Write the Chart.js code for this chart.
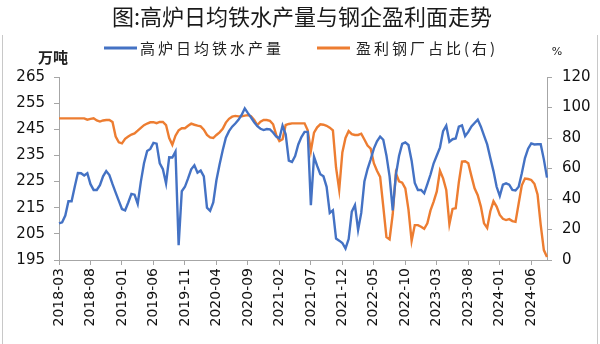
<!DOCTYPE html>
<html>
<head>
<meta charset="utf-8">
<script src="https://cdn.jsdelivr.net/npm/chart.js@4/dist/chart.umd.min.js"></script>
<style>
  body { margin: 0; background: #fff; }
  #wrap { width: 600px; height: 344px; }
</style>
</head>
<body>
<div id="wrap"><canvas id="myChart" width="600" height="344"></canvas></div>
<script>
// data: two points per month, 2018-03 .. 2024-08
const titleText = '图:高炉日均铁水产量与钢企盈利面走势';
const seriesNames = ['高炉日均铁水产量', '盈利钢厂占比(右)'];
const tickLabels = ['2018-03', '2018-08', '2019-01', '2019-06', '2019-11', '2020-04', '2020-09', '2021-02',
  '2021-07', '2021-12', '2022-05', '2022-10', '2023-03', '2023-08', '2024-01', '2024-06'];

// category labels (half-month steps)
let cats = [];
for (let m = 0; m < 78; m++) {
  let y = 2018 + Math.floor((m + 2) / 12);
  let mm = String((m + 2) % 12 + 1).padStart(2, '0');
  cats.push(y + '-' + mm + '-01', y + '-' + mm + '-16');
}

// 高炉日均铁水产量, 万吨
const ironOutput = [
  209, 209.4, 212, 217.5, 217.5, 223, 228.3, 228.2, 227.3, 228.2,
  224, 221.8, 221.8, 223.6, 227, 229, 227.5, 224, 220.8, 217.6,
  214.5, 214, 217, 220.3, 220, 216.5, 225, 232, 236.7, 237.5,
  239.8, 239.5, 232, 229.7, 224.3, 234.3, 234.2, 236.5, 200.7, 221.3,
  223, 226.2, 229.7, 231.2, 228.4, 229.2, 227, 215, 213.8, 217,
  225.5, 231.5, 237, 241.8, 244.3, 246, 247.2, 248.6, 250.5, 253,
  251.2, 249.5, 247.7, 246.2, 245.2, 244.7, 245.1, 245, 243.8, 242.2,
  241.5, 246.4, 243.1, 233, 232.5, 234.8, 239.2, 242, 244, 244,
  216, 234.5, 231, 227.8, 227, 223, 213, 214, 203.2, 202.4,
  201.5, 199.4, 203, 213.5, 216, 206.5, 213, 225, 229.8, 233.5,
  237.6, 240.4, 242.2, 241, 235, 227, 214, 227.5, 234.8, 239.4,
  240, 239, 233, 224.5, 221.8, 221.8, 220.5, 224, 227.7, 232,
  235, 238, 244.3, 246.4, 240.2, 241.2, 241.5, 246, 246.5, 242.4,
  244, 246.1, 247.4, 248.7, 246, 242.6, 239.2, 234, 229, 223,
  219.5, 223.8, 224.3, 223.8, 221.8, 221.6, 223, 228.2, 234, 237.6,
  239.6, 239.2, 239.3, 239.3, 233.5, 226.5
];

// 盈利钢厂占比, %
const profitShare = [
  92.9, 92.9, 92.9, 92.9, 92.9, 92.9, 92.9, 92.9, 92.9, 92,
  92.5, 92.9, 91.5, 90.8, 91.5, 91.8, 91.8, 90.5, 81, 77.2,
  76.5, 79.5, 81, 82.3, 83, 84.8, 86.7, 88.4, 89.5, 90.3,
  90.4, 89.7, 90.5, 90.5, 88.5, 80, 75.5, 81.5, 85, 86.4,
  86.4, 88, 89.4, 88.7, 88.1, 87.6, 85.5, 82, 80.4, 80,
  82, 83.7, 86, 90.1, 92.6, 94, 94.5, 94.2, 94.2, 94.7,
  95, 94.3, 91.8, 88.5, 90.7, 91.8, 91.8, 91.2, 89, 82,
  78, 79.2, 88.5, 89.2, 89.6, 89.6, 89.6, 89.6, 89.6, 85,
  71.5, 83.5, 87, 89, 88.7, 88, 86.8, 85, 60.5, 46,
  70.5, 80, 84.5, 82.5, 82, 82, 82.8, 79, 75, 73,
  63.5, 58.5, 54.5, 35, 15, 13.5, 30, 56.9, 51.6, 50.7,
  47, 33, 12.5, 22.9, 22.9, 21.8, 20.5, 24, 32.5, 38.3,
  45, 58.5, 53.5, 46, 23.5, 33.5, 33.9, 51, 64.5, 64.7,
  63.5, 55, 47, 42.5, 35, 24, 21, 32, 38.5, 35,
  29.5, 27, 26.2, 26.8, 25.5, 25, 37, 49, 53.4, 53.1,
  52.5, 50, 43, 23, 6.5, 2
];

const colors = ['#4472C4', '#ED7D31'];
const axisGray = '#a6a6a6';
const tickFont = { family: 'DejaVu Sans', size: 15 };

// title, legend, units and frame
const decor = {
  id: 'decor',
  afterDraw(chart) {
    let ctx = chart.ctx;
    ctx.save();
    ctx.strokeStyle = '#c8c8c8';
    ctx.lineWidth = 1;
    ctx.beginPath();
    ctx.moveTo(2.5, 35); ctx.lineTo(2.5, 344);
    ctx.moveTo(597.5, 35); ctx.lineTo(597.5, 344);
    ctx.stroke();

    ctx.fillStyle = '#1a1a1a';
    ctx.textBaseline = 'middle';
    ctx.textAlign = 'center';
    ctx.font = '22px "Noto Sans CJK SC"';
    ctx.fillText(titleText, 302, 17);

    // legend
    let items = [[104, 140], [317, 356]];
    ctx.textAlign = 'left';
    ctx.font = '15px "Noto Sans CJK SC"';
    ctx.letterSpacing = '3px';
    items.forEach((it, i) => {
      ctx.strokeStyle = colors[i];
      ctx.lineWidth = 3;
      ctx.beginPath();
      ctx.moveTo(it[0], 48); ctx.lineTo(it[0] + 33, 48);
      ctx.stroke();
      ctx.fillStyle = '#222';
      ctx.fillText(seriesNames[i], it[1], 48);
    });
    ctx.letterSpacing = '0px';

    // units
    ctx.font = 'bold 15px "Noto Sans CJK SC"';
    ctx.fillText('万吨', 38, 57);
    ctx.font = '11px "DejaVu Sans"';
    ctx.textAlign = 'center';
    ctx.fillText('%', 557, 52);
    ctx.restore();
  }
};

const chart = new Chart(document.getElementById('myChart'), {
  type: 'line',
  data: {
    labels: cats,
    datasets: [{
      label: seriesNames[0],
      data: ironOutput,
      borderColor: colors[0],
      backgroundColor: colors[0],
      borderWidth: 2.4,
      pointRadius: 0,
      yAxisID: 'y'
    }, {
      label: seriesNames[1],
      data: profitShare,
      borderColor: colors[1],
      backgroundColor: colors[1],
      borderWidth: 2.4,
      pointRadius: 0,
      yAxisID: 'y1'
    }]
  },
  options: {
    responsive: false,
    animation: false,
    layout: { padding: { top: 77 } },
    plugins: {
      legend: { display: false },
      title: { display: false },
      tooltip: { enabled: false }
    },
    scales: {
      x: {
        afterFit: (s) => { s.height = 84; },
        border: { color: axisGray },
        grid: { drawOnChartArea: false, tickLength: 5, color: axisGray },
        ticks: {
          autoSkip: false,
          maxRotation: 90,
          minRotation: 90,
          padding: 3,
          color: '#111',
          font: { family: 'DejaVu Sans', size: 14 },
          callback: (val, idx) => {
            let lab = cats[idx].slice(0, 7);
            return (idx % 2 === 0 && tickLabels.includes(lab)) ? lab : null;
          }
        }
      },
      y: {
        position: 'left',
        min: 195,
        max: 265,
        afterFit: (s) => { s.width = 59; },
        border: { color: axisGray },
        grid: { drawOnChartArea: false, tickLength: 5, color: axisGray },
        ticks: { stepSize: 10, padding: 9, color: '#111', font: tickFont }
      },
      y1: {
        position: 'right',
        min: 0,
        max: 120,
        afterFit: (s) => { s.width = 53; },
        border: { color: axisGray },
        grid: { drawOnChartArea: false, tickLength: 5, color: axisGray },
        ticks: { stepSize: 20, padding: 10, color: '#111', font: tickFont }
      }
    }
  },
  plugins: [decor]
});
</script>
</body>
</html>
